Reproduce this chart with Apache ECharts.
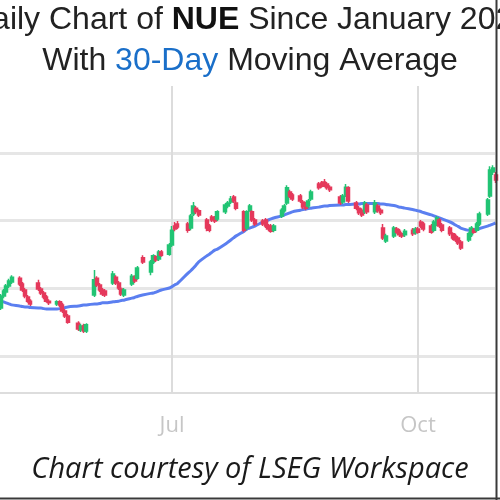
<!DOCTYPE html>
<html>
<head>
<meta charset="utf-8">
<script src="https://cdn.jsdelivr.net/npm/echarts@6/dist/echarts.min.js"></script>
<style>
html,body{margin:0;padding:0;background:#fff;}
#chart{width:500px;height:500px;}
</style>
</head>
<body>
<div id="chart"></div>
<script>
const dates = [
'2025-04-28','2025-04-29','2025-04-30','2025-05-01','2025-05-02',
'2025-05-05','2025-05-06','2025-05-07','2025-05-08','2025-05-09',
'2025-05-12','2025-05-13','2025-05-14','2025-05-15','2025-05-16',
'2025-05-19','2025-05-20','2025-05-21','2025-05-22','2025-05-23',
'2025-05-27','2025-05-28','2025-05-29','2025-05-30',
'2025-06-02','2025-06-03','2025-06-04','2025-06-05','2025-06-06',
'2025-06-09','2025-06-10','2025-06-11','2025-06-12','2025-06-13',
'2025-06-16','2025-06-17','2025-06-18','2025-06-20',
'2025-06-23','2025-06-24','2025-06-25','2025-06-26','2025-06-27',
'2025-06-30','2025-07-01','2025-07-02','2025-07-03',
'2025-07-07','2025-07-08','2025-07-09','2025-07-10','2025-07-11',
'2025-07-14','2025-07-15','2025-07-16','2025-07-17','2025-07-18',
'2025-07-21','2025-07-22','2025-07-23','2025-07-24','2025-07-25',
'2025-07-28','2025-07-29','2025-07-30','2025-07-31','2025-08-01',
'2025-08-04','2025-08-05','2025-08-06','2025-08-07','2025-08-08',
'2025-08-11','2025-08-12','2025-08-13','2025-08-14','2025-08-15',
'2025-08-18','2025-08-19','2025-08-20','2025-08-21','2025-08-22',
'2025-08-25','2025-08-26','2025-08-27','2025-08-28','2025-08-29',
'2025-09-02','2025-09-03','2025-09-04','2025-09-05',
'2025-09-08','2025-09-09','2025-09-10','2025-09-11','2025-09-12',
'2025-09-15','2025-09-16','2025-09-17','2025-09-18','2025-09-19',
'2025-09-22','2025-09-23','2025-09-24','2025-09-25','2025-09-26',
'2025-09-29','2025-09-30','2025-10-01','2025-10-02','2025-10-03',
'2025-10-06','2025-10-07','2025-10-08','2025-10-09','2025-10-10',
'2025-10-13','2025-10-14','2025-10-15','2025-10-16','2025-10-17',
'2025-10-20','2025-10-21','2025-10-22','2025-10-23','2025-10-24',
'2025-10-27','2025-10-28','2025-10-29','2025-10-30'
];
const opens = [
114.2,117.7,118.9,120.7,121.9, 123.0,121.3,119.5,117.4,116.2,
121.6,119.8,118.6,117.4,116.2, 115.4,116.0,115.1,113.3,111.8,
109.7,107.7,108.9,107.4, 118.0,123.0,121.0,119.5,119.2,
121.6,123.3,121.6,119.8,118.0, 121.3,123.3,123.0,129.0,
124.8,127.8,129.3,128.7,130.7, 130.1,132.8,138.4,139.0,
139.0,137.8,142.0,143.7,142.9, 140.2,138.4,141.1,140.8,140.5,
142.6,144.3,145.5,147.0,145.2, 142.6,137.8,143.1,142.6,140.2,
139.9,140.2,138.4,138.4,137.2, 141.4,142.9,145.2,148.5,147.6,
147.3,145.5,144.9,144.3,146.4, 150.8,151.1,151.4,150.8,149.9,
147.0,145.5,147.6,149.7, 145.2,143.7,143.1,142.6,144.6,
142.6,144.3,143.1,137.8,134.0, 135.5,137.5,136.9,136.1,135.8,
137.2,136.4,137.5,139.6,139.0, 138.4,137.2,139.0,140.2,138.7,
137.8,136.1,135.5,134.9,133.7, 134.3,135.8,137.2,137.2,139.0,
142.0,147.3,154.4,153.5
];
const closes = [
117.7,119.2,120.7,122.2,123.3, 121.3,119.5,117.7,116.2,115.4,
119.8,118.6,117.4,116.2,115.7, 116.0,115.1,113.3,111.8,110.0,
108.0,108.9,107.4,109.2, 122.5,121.0,119.5,118.3,118.0,
124.2,121.6,120.1,118.3,119.5, 123.6,122.2,126.0,127.8,
127.8,129.6,128.4,130.7,129.8, 132.8,137.2,137.5,138.1,
137.2,141.4,144.3,142.6,141.7, 137.8,137.2,140.2,139.9,142.6,
144.6,145.2,146.4,145.8,143.7, 137.2,142.6,144.3,140.2,139.0,
139.0,138.4,137.5,136.9,138.4, 143.1,144.3,149.7,147.3,146.4,
145.8,144.0,143.7,145.8,148.5, 149.7,150.2,150.5,149.7,149.1,
145.2,147.3,149.9,145.8, 143.7,142.3,141.7,145.2,142.6,
145.2,142.9,142.3,134.9,135.5, 137.8,136.6,135.8,135.5,136.9,
136.1,137.5,136.6,138.4,137.5, 136.6,139.6,140.8,138.4,137.2,
136.1,134.9,134.3,133.4,131.9, 136.1,137.8,136.6,139.0,142.0,
146.1,155.0,155.6,152.0
];
const lows = [
113.6,117.1,118.3,120.1,121.3, 120.7,118.9,117.1,115.7,114.8,
119.2,118.0,116.8,115.7,115.1, 114.8,114.5,112.7,111.2,109.5,
107.4,107.1,106.8,106.8, 117.4,120.4,118.9,117.7,117.4,
121.0,121.0,119.5,117.7,117.4, 120.7,121.6,122.5,127.2,
123.9,127.2,127.8,128.1,129.3, 129.6,132.2,136.9,137.5,
136.4,137.2,141.4,142.0,141.1, 136.9,136.6,139.6,139.3,139.9,
142.0,143.7,144.9,145.2,143.1, 136.6,137.2,142.6,139.6,138.4,
138.4,137.8,136.9,136.4,136.6, 140.8,142.3,144.6,146.7,145.8,
145.2,143.4,143.1,143.7,145.8, 149.1,149.7,149.9,149.1,148.5,
144.6,144.9,147.0,145.2, 143.1,141.7,141.1,142.0,142.0,
142.0,142.3,141.7,134.3,133.4, 134.9,136.1,135.2,134.9,135.2,
135.5,135.8,136.1,137.8,136.9, 136.1,136.6,138.4,137.8,136.6,
135.5,134.3,133.7,132.8,131.3, 133.7,135.2,136.1,136.6,138.4,
141.4,146.7,153.5,151.1
];
const highs = [
118.3,119.8,121.3,122.8,123.9, 123.6,121.9,120.1,118.0,116.8,
122.5,120.4,119.2,118.0,116.8, 116.5,116.5,115.7,113.9,112.4,
110.3,109.5,109.5,109.7, 125.4,123.6,121.6,120.1,119.8,
125.1,123.9,122.2,120.4,120.1, 124.2,123.9,126.6,129.8,
128.4,130.1,129.8,131.3,131.3, 133.4,138.4,139.6,139.9,
139.6,142.0,145.5,144.3,143.4, 140.8,139.0,141.7,141.4,143.1,
145.2,145.8,147.3,147.6,145.8, 143.1,143.1,144.9,143.1,140.8,
140.5,140.8,139.0,139.0,139.0, 143.7,144.9,150.5,149.1,148.2,
147.9,146.1,145.5,146.4,149.1, 151.4,151.7,152.3,151.4,150.5,
147.6,147.9,150.8,150.2, 145.8,144.3,143.7,145.8,145.2,
146.1,144.9,143.7,139.0,136.1, 138.4,138.1,137.5,136.6,137.5,
137.8,138.1,138.1,140.2,139.6, 139.0,140.2,141.4,140.8,139.3,
138.4,136.6,136.1,135.5,134.3, 136.6,138.4,137.8,139.6,142.6,
146.7,156.1,156.4,154.4
];
const ma30 = [
116.2,116.0,115.7,115.4,115.1,114.8,114.6,114.5,114.5,114.3,
114.2,114.2,114.0,113.9,113.9,113.9,114.0,114.2,114.3,114.5,
114.8,114.9,115.1,115.1, 115.4,115.4,115.5,115.7,115.7,
116.0,116.1,116.2,116.4,116.5, 117.1,117.3,117.6,118.0,
118.5,118.6,118.9,119.2,119.5, 120.1,120.5,121.0,121.4,
124.5,125.2,126.0,126.9,127.8, 129.6,130.1,130.7,131.3,131.6,
133.1,133.7,134.3,134.9,135.5, 136.9,137.5,137.8,138.1,138.4,
139.6,139.9,140.2,140.5,140.8, 141.4,141.7,142.0,142.3,142.6,
143.1,143.3,143.4,143.6,143.7, 144.0,144.2,144.3,144.3,144.5,
144.6,144.6,144.8,144.8, 144.9,144.9,145.1,145.1,145.1,
145.1,145.1,144.9,144.9,144.8, 144.5,144.3,144.0,143.9,143.7,
143.3,143.1,142.9,142.7,142.4, 141.7,141.4,141.1,140.8,140.5,
139.6,139.2,138.7,138.3,137.8, 137.2,137.2,137.4,137.5,137.7,
138.4,138.7,139.0,139.3
];
const xTickDates = ['2025-07-01', '2025-10-01'];
const xTickLabels = ['Jul', 'Oct'];
const yGridValues = [100, 120, 140, 160];

const ts = d => +echarts.time.parse(d);
const xTickTs = xTickDates.map(ts);

const candleData = dates.map((d, i) => [d, opens[i], closes[i], lows[i], highs[i]]);
const maData = dates.map((d, i) => [d, ma30[i]]);

const chart = echarts.init(document.getElementById('chart'));
chart.setOption({
  animation: false,
  backgroundColor: '#fff',
  title: [{
    text: '{n|Daily Chart of }{b|NUE}{n| Since January 2025}\n{n|With }{c|30-Day}{n| Moving Average}',
    left: 'center',
    top: 0,
    padding: 0,
    textStyle: {
      fontWeight: 'normal',
      rich: {
        n: { fontSize: 32, fontFamily: 'Liberation Sans', fontWeight: 'normal', color: '#222', lineHeight: 41 },
        b: { fontSize: 32, fontFamily: 'Liberation Sans', fontWeight: 'bold', color: '#111', lineHeight: 41 },
        c: { fontSize: 32, fontFamily: 'Liberation Sans', fontWeight: 'normal', color: '#1a6fc9', lineHeight: 41 }
      }
    }
  }, {
    text: 'Chart courtesy of LSEG Workspace',
    left: 'center',
    top: 455,
    padding: 0,
    textStyle: { fontSize: 29, fontFamily: 'Open Sans', fontStyle: 'italic', fontWeight: 'normal', color: '#1a1a1a' }
  }],
  grid: { left: 0, right: 5, top: 86, bottom: 107, containLabel: false },
  xAxis: {
    type: 'time',
    min: '2025-04-27 16:00',
    max: '2025-10-29 19:12',
    axisLine: { show: true, lineStyle: { color: '#dddddd', width: 2 } },
    axisTick: { show: false },
    splitLine: { show: false },
    axisLabel: {
      color: '#c6c6c6',
      fontSize: 22,
      fontFamily: 'Open Sans',
      margin: 22,
      hideOverlap: false,
      showMinLabel: false,
      showMaxLabel: false,
      formatter: function (v) {
        const i = xTickTs.indexOf(+v);
        return i >= 0 ? xTickLabels[i] : '';
      }
    }
  },
  yAxis: {
    type: 'value',
    min: 89.06,
    max: 179.8,
    show: false,
    splitLine: { show: false }
  },
  graphic: [
    { type: 'line', shape: { x1: 496.5, y1: 0, x2: 496.5, y2: 500 }, style: { stroke: '#3a3a3a', lineWidth: 2 }, z: 100 },
    { type: 'line', shape: { x1: 0, y1: 498.5, x2: 500, y2: 498.5 }, style: { stroke: '#3a3a3a', lineWidth: 2 }, z: 100 }
  ],
  series: [{
    type: 'line',
    name: 'MA30',
    data: maData,
    showSymbol: false,
    smooth: 0.3,
    lineStyle: { color: '#5b7ff0', width: 3 },
    z: 2,
    markLine: {
      silent: true,
      symbol: 'none',
      z: 1,
      label: { show: false },
      lineStyle: { color: '#e6e6e6', width: 3, type: 'solid' },
      data: yGridValues.map(v => ({ yAxis: v }))
        .concat(xTickTs.map(t => ({ xAxis: t, lineStyle: { color: '#dcdcdc', width: 2, type: 'solid' } })))
    }
  }, {
    type: 'candlestick',
    name: 'NUE',
    data: candleData,
    barWidth: 3.5,
    z: 3,
    itemStyle: {
      color: '#22c474',
      color0: '#e5395b',
      borderColor: '#22c474',
      borderColor0: '#e5395b',
      borderWidth: 1.5
    }
  }]
});
</script>
</body>
</html>
